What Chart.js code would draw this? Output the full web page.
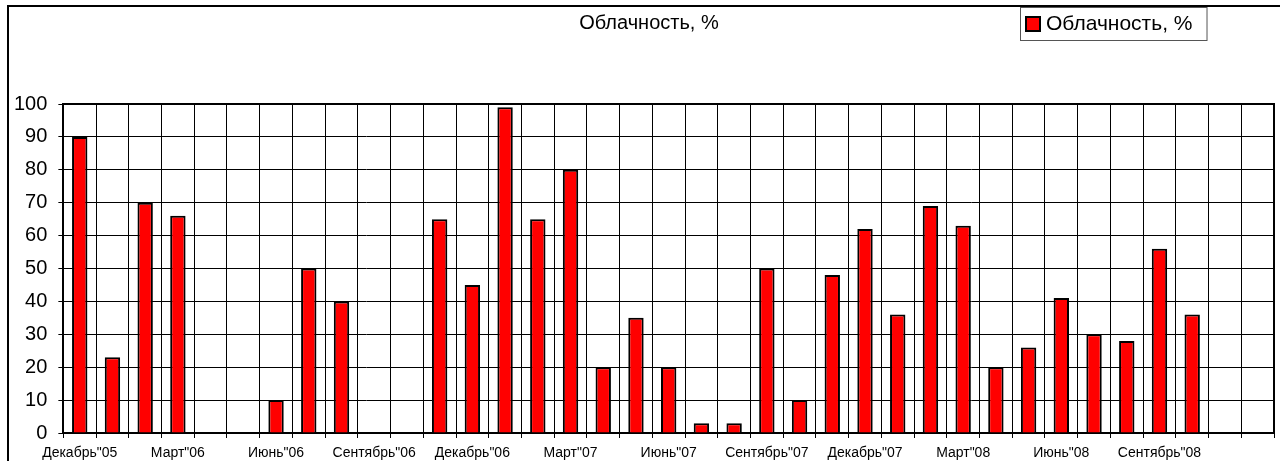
<!DOCTYPE html>
<html>
<head>
<meta charset="utf-8">
<script src="https://cdn.jsdelivr.net/npm/chart.js@4/dist/chart.umd.min.js"></script>
<style>
  html, body { margin: 0; padding: 0; background: #fff; }
  #wrap { width: 1280px; height: 461px; position: relative; }
</style>
</head>
<body>
<div id="wrap"><canvas id="chart" width="1280" height="461"></canvas></div>
<script>
const months = [
  'Декабрь"05', 'Январь"06', 'Февраль"06', 'Март"06', 'Апрель"06', 'Май"06', 'Июнь"06',
  'Июль"06', 'Август"06', 'Сентябрь"06', 'Октябрь"06', 'Ноябрь"06', 'Декабрь"06',
  'Январь"07', 'Февраль"07', 'Март"07', 'Апрель"07', 'Май"07', 'Июнь"07',
  'Июль"07', 'Август"07', 'Сентябрь"07', 'Октябрь"07', 'Ноябрь"07', 'Декабрь"07',
  'Январь"08', 'Февраль"08', 'Март"08', 'Апрель"08', 'Май"08', 'Июнь"08',
  'Июль"08', 'Август"08', 'Сентябрь"08', 'Октябрь"08', 'Ноябрь"08', 'Декабрь"08'
];
// подписи оси X: Excel показывает каждый третий месяц (последний не влез)
const xTickLabels = [
  'Декабрь"05', '', '', 'Март"06', '', '', 'Июнь"06',
  '', '', 'Сентябрь"06', '', '', 'Декабрь"06',
  '', '', 'Март"07', '', '', 'Июнь"07',
  '', '', 'Сентябрь"07', '', '', 'Декабрь"07',
  '', '', 'Март"08', '', '', 'Июнь"08',
  '', '', 'Сентябрь"08', '', '', ''
];
// облачность по месяцам, null = нет данных
const cloudiness = [
  90, 23, 70, 66, null, null, 10,
  50, 40, null, null, 65, 45,
  99, 65, 80, 20, 35, 20,
  3, 3, 50, 10, 48, 62,
  36, 69, 63, 20, 26, 41,
  30, 28, 56, 36, null, null
];
const yTicks = [0, 10, 20, 30, 40, 50, 60, 70, 80, 90, 100];
const seriesName = "Облачность, %";

const FONT = "'Liberation Sans', Arial, sans-serif";

// рамка диаграммы, заголовок, верх/право области построения и легенда в стиле Excel
const frame = {
  id: "frame",
  afterDraw(chart) {
    const { ctx, chartArea: a } = chart;
    ctx.save();
    ctx.strokeStyle = "#000";
    ctx.lineWidth = 2;
    ctx.beginPath();
    ctx.moveTo(8, 461); ctx.lineTo(8, 6); ctx.lineTo(1280, 6);
    ctx.moveTo(a.left - 1, a.top); ctx.lineTo(a.right, a.top); ctx.lineTo(a.right, a.bottom + 1);
    ctx.stroke();

    // заголовок
    ctx.fillStyle = "#000";
    ctx.font = "20px " + FONT;
    ctx.textAlign = "center";
    ctx.textBaseline = "middle";
    ctx.fillText(seriesName, 649, 23);

    // легенда
    const ds = chart.data.datasets[0];
    ctx.textAlign = "left";
    ctx.font = "21px " + FONT;
    const tw = ctx.measureText(ds.label).width;
    const x = 1020, y = 7, h = 33, w = tw + 40;
    ctx.fillStyle = "#fff";
    ctx.fillRect(x, y, w, h);
    ctx.strokeStyle = "#555";
    ctx.lineWidth = 1;
    ctx.strokeRect(x + 0.5, y + 0.5, w, h);
    ctx.fillStyle = ds.backgroundColor;
    ctx.fillRect(x + 6, y + 10, 14, 14);
    ctx.strokeStyle = ds.borderColor;
    ctx.lineWidth = 2;
    ctx.strokeRect(x + 6, y + 10, 14, 14);
    ctx.fillStyle = "#000";
    ctx.fillText(ds.label, x + 26, y + h / 2 + 1);
    ctx.restore();
  }
};

new Chart(document.getElementById("chart"), {
  type: "bar",
  data: {
    labels: months,
    datasets: [{
      label: seriesName,
      data: cloudiness,
      backgroundColor: "#ff0000",
      borderColor: "#000",
      borderWidth: 2,
      barPercentage: 0.47,
      categoryPercentage: 1,
    }]
  },
  options: {
    responsive: false,
    animation: false,
    layout: { padding: { left: 3, right: 6, top: 104, bottom: -7 } },
    plugins: {
      legend: { display: false },
      tooltip: { enabled: false },
      title: { display: false },
    },
    scales: {
      x: {
        grid: { color: "#000", lineWidth: 1, offset: true, tickLength: 5 },
        border: { color: "#000", width: 2 },
        ticks: {
          autoSkip: false, maxRotation: 0, minRotation: 0, padding: 8,
          color: "#000", font: { family: FONT, size: 14, lineHeight: 1 },
          callback: (v, i) => xTickLabels[i],
        },
      },
      y: {
        min: yTicks[0],
        max: yTicks[yTicks.length - 1],
        afterBuildTicks: s => { s.ticks = yTicks.map(v => ({ value: v })); },
        grid: { color: "#000", lineWidth: 1, tickLength: 5 },
        border: { color: "#000", width: 2 },
        ticks: { color: "#000", padding: 11, font: { family: FONT, size: 20 } },
      },
    },
  },
  plugins: [frame],
});
</script>
</body>
</html>
